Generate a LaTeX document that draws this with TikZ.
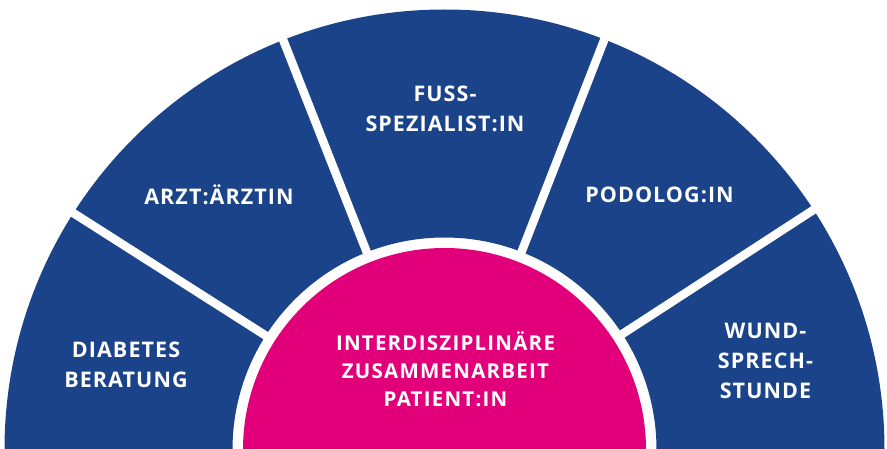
\documentclass[tikz,border=0pt]{standalone}
\usepackage{fontspec}
\setmainfont{Open Sans}
\newfontfamily\lblfont[LetterSpace=5]{Open Sans}
\newfontfamily\plblfont[LetterSpace=6]{Open Sans}
\definecolor{fanblue}{RGB}{27,67,137}
\definecolor{fanpink}{RGB}{226,0,122}
\begin{document}
\begin{tikzpicture}[x=1pt,y=1pt,
  lbl/.style={text=white,font=\lblfont\bfseries\fontsize{21.5}{30}\selectfont,align=center,inner sep=0pt},
  plbl/.style={text=white,font=\plblfont\bfseries\fontsize{20.5}{28}\selectfont,align=center,inner sep=0pt},
  sep/.style={draw=white,line width=8.5pt}]
\useasboundingbox (0,0) rectangle (887,448);
\clip (0,0) rectangle (887,448);
\coordinate (c) at (444.5,-1.5);
\fill[fanblue,even odd rule] (c) circle[radius=440] (c) circle[radius=212];
\foreach \a in {33,68.7,111.5,147.5} \draw[sep] (c) -- ++(\a:470);
\fill[fanpink] (c) circle[radius=201.5];
\node[lbl] (diab) at (126,83.5) {DIABETES\\BERATUNG};
\node[lbl] (arzt) at (219,253) {ARZT:ÄRZTIN};
\node[lbl] (fuss) at (445,339.5) {FUSS-\\SPEZIALIST:IN};
\node[lbl] (podo) at (659.5,253.5) {PODOLOG:IN};
\node[lbl] (wund) at (765.5,87.5) {WUND-\\SPRECH-\\STUNDE};
\node[plbl] (pat) at (445.5,79) {INTERDISZIPLINÄRE\\ZUSAMMENARBEIT\\PATIENT:IN};
\end{tikzpicture}
\end{document}
